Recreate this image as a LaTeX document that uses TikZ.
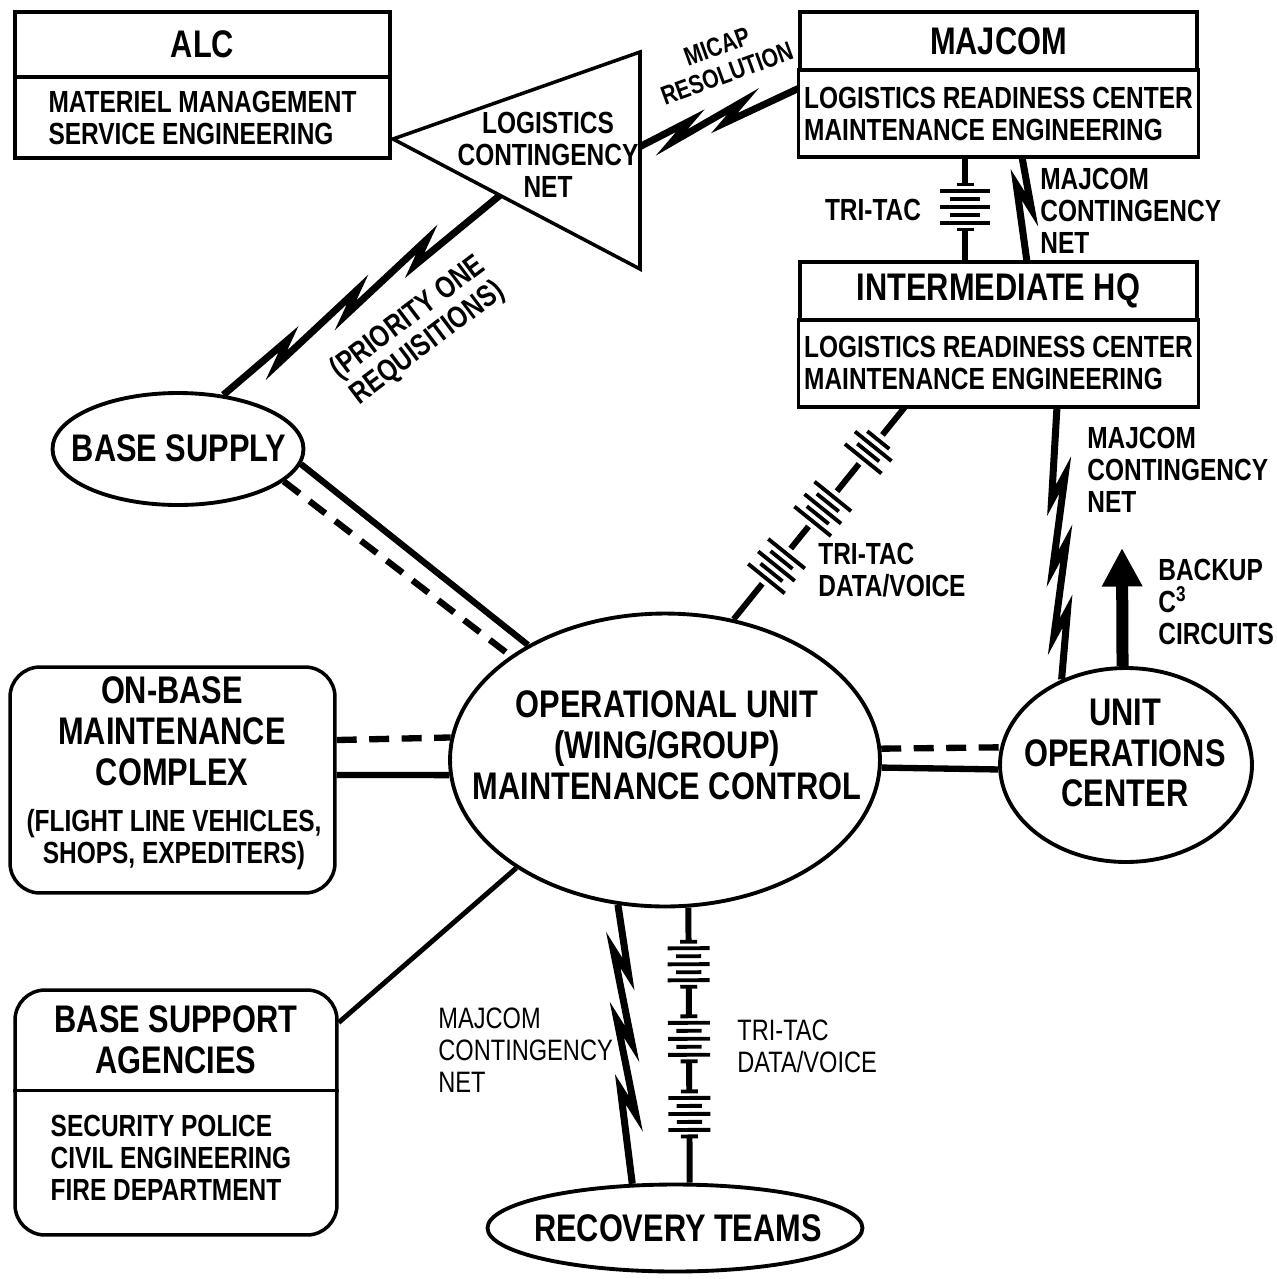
\documentclass[tikz,border=0pt]{standalone}
\usepackage{fontspec}
\setmainfont{Liberation Sans}[FakeStretch=0.8]
\usetikzlibrary{shapes.geometric, positioning, calc, arrows.meta, decorations.markings}

\tikzstyle{small} = [font=\fontsize{17.4}{18.2}\selectfont\bfseries]
\tikzstyle{lightsmall} = [font=\fontsize{16.8}{18.2}\selectfont]
\tikzstyle{big} = [font=\fontsize{21.9}{23.3}\selectfont\bfseries]
\tikzstyle{headbox} = [rectangle, draw=black, line width=2pt, outer sep=0pt, big]
\tikzstyle{listbox} = [rectangle, draw=black, line width=2pt, outer sep=0pt, small, align=left]
\tikzstyle{roundRec} = [rectangle, rounded corners=0.6cm, draw=black, line width=2pt]
\tikzstyle{oval} = [ellipse, draw=black, line width=2.2pt, inner sep=0pt]
\tikzstyle{note} = [small, align=left, anchor=west, inner sep=0pt]
\tikzstyle{link} = [line width=3.6pt]
\tikzstyle{linkdash} = [line width=3.6pt, dash pattern=on 0.4cm off 0.25cm]

\def\boltn{3}
\def\boltside{1}
\def\boltamp{0.14cm}
\def\boltback{0.5cm}
\pgfdeclaredecoration{bolt}{tooth}{%
  \state{tooth}[width=\pgfdecoratedpathlength/(\boltn+1), repeat state=\boltn-1, next state=final]{%
    \pgfpathlineto{\pgfpoint{\pgfdecoratedpathlength/(\boltn+1)}{\boltside*\boltamp}}%
    \pgfpathlineto{\pgfpoint{\pgfdecoratedpathlength/(\boltn+1)-\boltback}{-(\boltside)*\boltamp}}}%
  \state{final}{\pgfpathlineto{\pgfpointdecoratedpathlast}}%
}
\tikzset{
  bolt/.style={decorate, decoration=bolt, line width=4pt, line join=miter},
  teeth/.code={\def\boltn{#1}},
  barb/.code={\def\boltside{#1}},
  tritac/.style={line width=3.4pt, postaction={decorate, decoration={markings, #1}}}
}

\newcommand{\cellstack}[3]{%
  \pgfmathsetmacro{\halfrun}{(#1-1)*0.08}%
  \fill[white] ({-\halfrun*1cm-0.13cm},-0.15cm) rectangle ({\halfrun*1cm+0.13cm},0.15cm);%
  \foreach \k in {1,...,#1}{%
    \ifodd\k\relax\def\platelen{#2}\else\def\platelen{0.6*#2}\fi
    \draw[line width=2.2pt] ({(\k-1)*0.16cm-\halfrun*1cm},{-\platelen}) -- ({(\k-1)*0.16cm-\halfrun*1cm},{\platelen});
  }%
  \ifnum#3=1
    \draw[line width=2.2pt] ({-\halfrun*1cm-0.13cm},-0.17cm) -- ({-\halfrun*1cm-0.13cm},0.17cm);
    \draw[line width=2.2pt] ({\halfrun*1cm+0.13cm},-0.17cm) -- ({\halfrun*1cm+0.13cm},0.17cm);
  \fi}

\begin{document}
\begin{tikzpicture}[x=0.02cm, y=-0.02cm]
\useasboundingbox (0,0) rectangle (1277,1279);

\node (alc) [headbox, minimum width=7.5cm, minimum height=1.3cm] at (202.5,44.5) {ALC};
\node (alclist) [listbox, minimum width=7.5cm, minimum height=1.62cm, below=0pt of alc] {MATERIEL MANAGEMENT\\SERVICE ENGINEERING};

\node (majcom) [headbox, minimum width=7.94cm, minimum height=1.16cm] at (998.5,41) {MAJCOM};
\node (majlist) [listbox, minimum width=7.94cm, minimum height=1.74cm, below=0pt of majcom] {LOGISTICS READINESS CENTER\\MAINTENANCE ENGINEERING};
\node (hq) [headbox, minimum width=7.94cm, minimum height=1.16cm, below=2.1cm of majlist] {INTERMEDIATE HQ};
\node (hqlist) [listbox, minimum width=7.94cm, minimum height=1.74cm, below=0pt of hq] {LOGISTICS READINESS CENTER\\MAINTENANCE ENGINEERING};

\coordinate (lcn apex) at (393,139);
\coordinate (lcn top) at (640,52);
\coordinate (lcn bottom) at (640,269);
\draw [line width=2pt] (lcn apex) -- (lcn top) -- (lcn bottom) -- cycle;
\node (lcn) [small, align=center] at (548,155) {LOGISTICS\\CONTINGENCY\\NET};
\coordinate (micap start) at ($(lcn top)!0.436!(lcn bottom)$);
\coordinate (req start) at ($(lcn apex)!0.433!(lcn bottom)$);

\node (supply) [oval, minimum width=5.02cm, minimum height=2.24cm] at (178,449) {};
\node (supplytext) [big] at (179,448) {BASE SUPPLY};
\node (opunit) [oval, minimum width=8.6cm, minimum height=5.86cm] at (665,760) {};
\node (opunittext) [big, align=center] at (667,745) {OPERATIONAL UNIT\\(WING/GROUP)\\MAINTENANCE CONTROL};
\node (unitops) [oval, minimum width=5.04cm, minimum height=3.88cm] at (1126,765) {};
\node (unitopstext) [big, align=center] at (1125,753) {UNIT\\OPERATIONS\\CENTER};
\node (recovery) [oval, minimum width=7.5cm, minimum height=1.74cm] at (675,1228) {};
\node (recoverytext) [big] at (678,1228) {RECOVERY TEAMS};

\node (onbase) [roundRec, minimum width=6.5cm, minimum height=4.52cm] at (172.5,780) {};
\node (onbasetitle) [big, align=center] at (172,731) {ON-BASE\\MAINTENANCE\\COMPLEX};
\node (onbasenote) [small, align=center] at (174,840) {(FLIGHT LINE VEHICLES,\\SHOPS, EXPEDITERS)};

\node (support) [roundRec, minimum width=6.44cm, minimum height=4.9cm] at (176,1112.5) {};
\node (supporttitle) [big, align=center, minimum height=2cm, inner sep=0pt] at (176,1040) {BASE SUPPORT\\AGENCIES};
\draw [line width=2pt] (supporttitle.south -| support.west) -- (supporttitle.south -| support.east);
\node (supportlist) [small, align=left] at (171,1158) {SECURITY POLICE\\CIVIL ENGINEERING\\FIRE DEPARTMENT};

\coordinate (backup tip) at (1122,548);

\draw [bolt, teeth=2] (micap start) -- ([yshift=0.5cm]majlist.west);
\draw [bolt, teeth=3] (supply.50) -- (req start);
\draw [tritac={mark=at position 0.476 with {\cellstack{5}{0.5cm}{1}}}] ([xshift=-0.67cm]majlist.south) -- ([xshift=-0.67cm]hq.north);
\draw [bolt, teeth=1] ([xshift=0.47cm]majlist.south) -- ([xshift=0.57cm]hq.north);
\draw [tritac={mark=at position 0.25 with {\cellstack{5}{0.47cm}{0}}, mark=at position 0.52 with {\cellstack{5}{0.47cm}{0}}, mark=at position 0.8 with {\cellstack{4}{0.47cm}{0}}}] (opunit.64.7) -- ([xshift=-1.87cm]hqlist.south);
\draw [bolt, teeth=3, barb=-1] (unitops.127.4) -- ([xshift=1.17cm]hqlist.south);
\draw [line width=0.24cm, -{Triangle[width=0.76cm,length=0.77cm]}] (unitops.92.4) -- (backup tip);

\draw [link] (supply.-7.7) -- (opunit.140.9);
\draw [linkdash] (supply.-17.1) -- (opunit.146.7);
\draw [linkdash] ([yshift=0.8cm]onbase.east) -- (opunit.174.6);
\draw [link] ([yshift=0.1cm]onbase.east) -- (opunit.184.1);
\draw [linkdash] (opunit.3.2) -- (unitops.172.3);
\draw [link] (opunit.-2.7) -- (unitops.182.3);
\draw [line width=2.8pt] ([yshift=1.8cm]support.east) -- (opunit.216.3);
\draw [bolt, teeth=3] (opunit.252.9) -- (recovery.134.3);
\draw [tritac={mark=at position 0.206 with {\cellstack{5}{0.42cm}{1}}, mark=at position 0.477 with {\cellstack{5}{0.42cm}{1}}, mark=at position 0.75 with {\cellstack{5}{0.42cm}{1}}}] (opunit.279) -- (recovery.72.4);

\node (micapnote) [font=\fontsize{15}{16.5}\selectfont\bfseries, align=center, rotate=20] at (722,60) {MICAP\\RESOLUTION};
\node (reqnote) [small, align=center, rotate=37] at (418,331) {(PRIORITY ONE\\REQUISITIONS)};
\node (tritacnote) [small] at (873,210) {TRI-TAC};
\node (majnetnote) [note] at (1040,211) {MAJCOM\\CONTINGENCY\\NET};
\node (datanote) [note] at (818,570) {TRI-TAC\\DATA/VOICE};
\node (uocnetnote) [note] at (1087,470) {MAJCOM\\CONTINGENCY\\NET};
\node (backupnote) [note] at (1158,602) {BACKUP\\C\textsuperscript{3}\\CIRCUITS};
\node (recnetnote) [note, lightsmall] at (438,1050) {MAJCOM\\CONTINGENCY\\NET};
\node (recdatanote) [note, lightsmall] at (737,1046) {TRI-TAC\\DATA/VOICE};
\end{tikzpicture}
\end{document}
